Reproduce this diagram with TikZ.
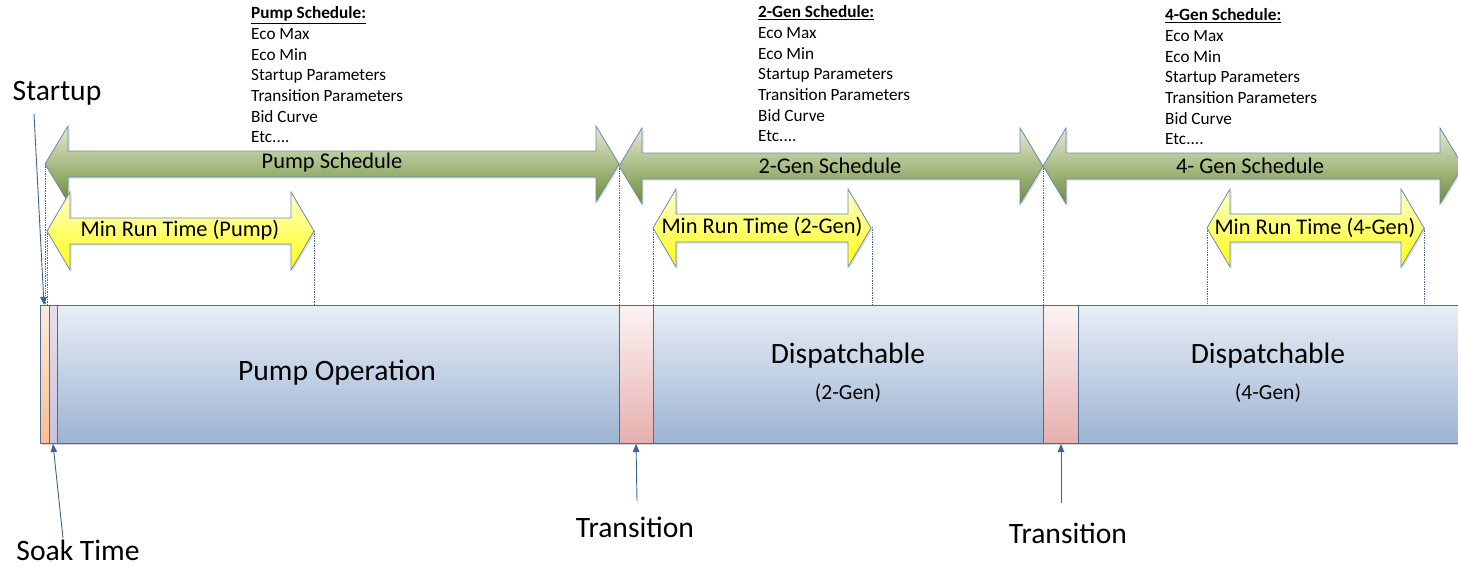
\documentclass[tikz,border=0pt]{standalone}
\usepackage{fontspec}
\setmainfont{Carlito}
\usetikzlibrary{arrows.meta,shadows}

\definecolor{edgeblue}{HTML}{4A6E98}
\definecolor{ptrblue}{HTML}{3D6496}
\definecolor{barA}{HTML}{E8EEF6}
\definecolor{barB}{HTML}{9DB4D2}
\definecolor{startA}{HTML}{FDEBDC}
\definecolor{startB}{HTML}{F9BE8E}
\definecolor{soakA}{HTML}{E6E1ED}
\definecolor{soakB}{HTML}{CBC0D9}
\definecolor{transA}{HTML}{FCF4F4}
\definecolor{transB}{HTML}{E5AFAE}
\definecolor{greenA}{HTML}{E2EBD2}
\definecolor{greenB}{HTML}{6F8C38}
\definecolor{yellowA}{HTML}{FFFFD0}
\definecolor{yellowB}{HTML}{FFFF10}

% double headed block arrow: [style](left tip, right tip, mid y)(shaft half, head half)
\def\dblarrow[#1](#2,#3,#4)(#5,#6){\draw[#1] (#2,#4) -- (#2+23,#4-#6) -- (#2+23,#4-#5) -- (#3-23,#4-#5) -- (#3-23,#4-#6) -- (#3,#4) -- (#3-23,#4+#6) -- (#3-23,#4+#5) -- (#2+23,#4+#5) -- (#2+23,#4+#6) -- cycle;}

\tikzset{
  schedarrow/.style={draw=edgeblue!80, line width=0.8pt, top color=greenA, bottom color=greenB,
    drop shadow={shadow xshift=1.5pt, shadow yshift=-1.5pt, opacity=0.25}},
  runarrow/.style={draw=edgeblue!80, line width=0.8pt, top color=yellowA, bottom color=yellowB,
    drop shadow={shadow xshift=1.5pt, shadow yshift=-1.5pt, opacity=0.25}},
  barseg/.style={draw=edgeblue, line width=0.9pt,
    drop shadow={shadow xshift=1.5pt, shadow yshift=-1.5pt, opacity=0.35}},
  guide/.style={draw=edgeblue, line width=0.7pt, densely dotted},
  pointer/.style={draw=ptrblue, line width=0.9pt, -{Triangle[length=8pt,width=6.5pt]}},
  listtext/.style={anchor=north west, align=left, inner sep=0pt, font=\fontsize{17.2}{20.7}\selectfont},
  arrowtext/.style={inner sep=0pt, font=\fontsize{22.4}{26}\selectfont},
  bigtext/.style={inner sep=0pt, font=\fontsize{29.6}{34}\selectfont},
  midtext/.style={inner sep=0pt, font=\fontsize{29.5}{34}\selectfont},
  smalltext/.style={inner sep=0pt, font=\fontsize{21.5}{25}\selectfont},
  calltext/.style={inner sep=0pt, font=\fontsize{29.6}{34}\selectfont}
}

\begin{document}
\begin{tikzpicture}[x=1pt,y=-1pt]
  \useasboundingbox (0,0) rectangle (1458,566);

  %%%%% timeline bar %%%%%
  \draw[barseg, top color=startA, bottom color=startB] (40,305) rectangle (49,443);
  \draw[barseg, top color=soakA, bottom color=soakB] (49,305) rectangle (57,443);
  \draw[barseg, top color=barA, bottom color=barB] (57,305) rectangle (619,443);
  \draw[barseg, top color=transA, bottom color=transB] (619,305) rectangle (653,443);
  \draw[barseg, top color=barA, bottom color=barB] (653,305) rectangle (1043,443);
  \draw[barseg, top color=transA, bottom color=transB] (1043,305) rectangle (1078,443);
  \draw[barseg, top color=barA, bottom color=barB] (1078,305) rectangle (1470,443);

  \node[bigtext] (pumpop) at (337,373) {Pump Operation};
  \node[midtext] (disp2) at (848,356) {Dispatchable};
  \node[smalltext] (gen2) at (848,393) {(2-Gen)};
  \node[midtext] (disp4) at (1268,356) {Dispatchable};
  \node[smalltext] (gen4) at (1268,393) {(4-Gen)};

  %%%%% guide lines %%%%%
  \draw[guide] (45,164) -- (45,305);
  \draw[guide] (47,231) -- (47,305);
  \draw[guide] (314,231) -- (314,305);
  \draw[guide] (619,166) -- (619,305);
  \draw[guide] (653,227) -- (653,305);
  \draw[guide] (872,227) -- (872,305);
  \draw[guide] (1043,166) -- (1043,305);
  \draw[guide] (1207,228) -- (1207,305);
  \draw[guide] (1424,228) -- (1424,305);

  %%%%% schedule arrows %%%%%
  \dblarrow[schedarrow](45,619,164)(13,38)
  \dblarrow[schedarrow](619,1043,166)(13,38)
  \dblarrow[schedarrow](1043,1463,166)(13,38)
  \node[arrowtext] (pumpsch) at (332,163) {Pump Schedule};
  \node[arrowtext] (gen2sch) at (830,166) {2-Gen Schedule};
  \node[arrowtext] (gen4sch) at (1250,166) {4- Gen Schedule};

  %%%%% min run time arrows %%%%%
  \dblarrow[runarrow](47,314,231)(13,39)
  \dblarrow[runarrow](653,871,228)(14,39)
  \dblarrow[runarrow](1207,1424,228)(14,39)
  \node[arrowtext] (runpump) at (180,230) {Min Run Time (Pump)};
  \node[arrowtext] (run2) at (762,227) {Min Run Time (2-Gen)};
  \node[arrowtext] (run4) at (1315,228) {Min Run Time (4-Gen)};

  %%%%% parameter lists %%%%%
  \node[listtext] (pumplist) at (251,6.5) {\textbf{\underline{Pump Schedule:}}\\Eco Max\\Eco Min\\Startup Parameters\\Transition Parameters\\Bid Curve\\Etc....};
  \node[listtext] (gen2list) at (758,5.5) {\textbf{\underline{2-Gen Schedule:}}\\Eco Max\\Eco Min\\Startup Parameters\\Transition Parameters\\Bid Curve\\Etc....};
  \node[listtext] (gen4list) at (1165,8.5) {\textbf{\underline{4-Gen Schedule:}}\\Eco Max\\Eco Min\\Startup Parameters\\Transition Parameters\\Bid Curve\\Etc....};

  %%%%% call-outs %%%%%
  \node[calltext] (startup) at (57,93) {Startup};
  \node[calltext] (soak) at (78,550) {Soak Time};
  \node[calltext] (trans1) at (635,527) {Transition};
  \node[calltext] (trans2) at (1068,533) {Transition};

  \coordinate (startupA) at (34,114);
  \coordinate (startupB) at (44,305);
  \coordinate (soakA) at (63,538);
  \coordinate (soakB) at (53,444);
  \coordinate (trans1A) at (637,501);
  \coordinate (trans1B) at (636,444);
  \coordinate (trans2A) at (1061,503);
  \coordinate (trans2B) at (1061,444);

  \draw[pointer] (startupA) -- (startupB);
  \draw[pointer] (soakA) -- (soakB);
  \draw[pointer] (trans1A) -- (trans1B);
  \draw[pointer] (trans2A) -- (trans2B);
\end{tikzpicture}
\end{document}
